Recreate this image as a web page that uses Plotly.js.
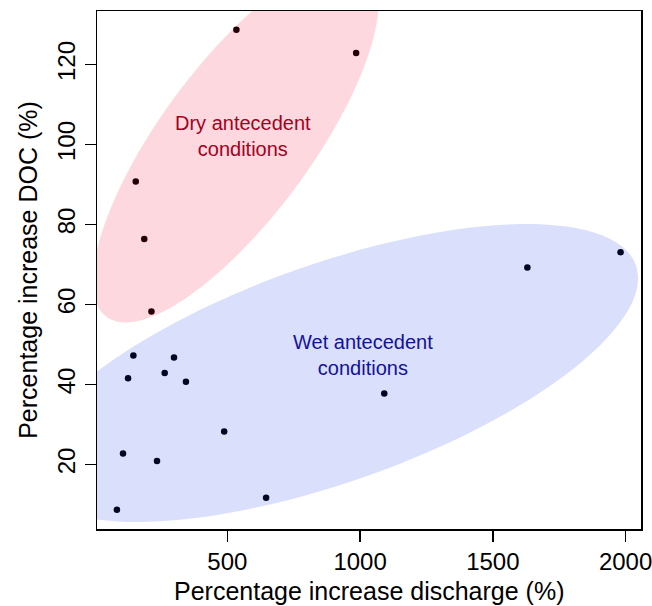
<!DOCTYPE html>
<html><head><meta charset="utf-8">
<script src="https://cdn.plot.ly/plotly-3.0.1.min.js"></script>
<style>html,body{margin:0;padding:0;background:#fff}#chart{width:652px;height:606px}</style>
</head><body><div id="chart"></div>
<script>
// Data
const dryDischarge = [534, 985, 155, 187, 214];
const dryDOC       = [128.7, 122.9, 90.8, 76.4, 58.3];
const wetDischarge = [146, 299, 126, 264, 344, 1091, 488, 107, 235, 646, 84, 1630, 1981];
const wetDOC       = [47.3, 46.8, 41.6, 42.9, 40.7, 37.8, 28.3, 22.8, 20.9, 11.7, 8.7, 69.3, 73.1];
const xTicks = [500, 1000, 1500, 2000];
const yTicks = [20, 40, 60, 80, 100, 120];
const groupLabels = ["Dry antecedent<br>conditions", "Wet antecedent<br>conditions"];
const xTitle = 'Percentage increase discharge (%)';
const yTitle = 'Percentage increase DOC (%)';

// Layout geometry
const W = 652, H = 606;
const M = {l: 97, r: 11, t: 11, b: 77};
const xRange = [9, 2058], yRange = [3.9, 133.4];
const pw = W - M.l - M.r, ph = H - M.t - M.b;
const pxX = pw / (xRange[1] - xRange[0]);
const pxY = ph / (yRange[1] - yRange[0]);

// ellipse: center in data units, semi-axes in pixels, angle in degrees
function ellipsePath(cx, cy, a, b, deg) {
  const t = deg * Math.PI / 180, n = 120;
  let d = '';
  for (let i = 0; i <= n; i++) {
    const p = 2 * Math.PI * i / n;
    const u = a * Math.cos(p), v = b * Math.sin(p);
    const du = u * Math.cos(t) - v * Math.sin(t);
    const dv = u * Math.sin(t) + v * Math.cos(t);
    const x = cx + du / pxX, y = cy + dv / pxY;
    d += (i === 0 ? 'M' : 'L') + x.toFixed(3) + ',' + y.toFixed(3);
  }
  return d + 'Z';
}

const traces = [
  {x: dryDischarge, y: dryDOC, mode: 'markers', type: 'scatter',
   marker: {color: '#000', size: 6.5}, hoverinfo: 'skip', cliponaxis: false},
  {x: wetDischarge, y: wetDOC, mode: 'markers', type: 'scatter',
   marker: {color: '#000', size: 6.5}, hoverinfo: 'skip', cliponaxis: false}
];

const font = 'Liberation Sans, Arial, sans-serif';
const layout = {
  width: W, height: H, margin: M, showlegend: false,
  paper_bgcolor: '#fff', plot_bgcolor: '#fff',
  font: {family: font, color: '#000', size: 24},
  xaxis: {range: xRange, tickvals: xTicks, ticktext: xTicks.map(String),
    showgrid: false, zeroline: false, showline: true, mirror: true,
    linecolor: '#000', linewidth: 1.5, ticks: 'outside', ticklen: 11, tickwidth: 1.3,
    tickcolor: '#000', tickfont: {size: 24}, ticklabeloverflow: 'allow', ticklabelstandoff: 0},
  yaxis: {range: yRange, tickvals: yTicks, ticktext: yTicks.map(String),
    showgrid: false, zeroline: false, showline: true, mirror: true,
    linecolor: '#000', linewidth: 1.5, ticks: 'outside', ticklen: 11, tickwidth: 1.3,
    tickcolor: '#000', tickfont: {size: 24}, tickangle: -90,
    title: {text: yTitle, font: {size: 25}, standoff: 8}},
  shapes: [
    {type: 'path', xref: 'x', yref: 'y', layer: 'above',
     path: ellipsePath(532, 100.8, 218, 75.5, 53.6),
     fillcolor: 'rgba(242,2,42,0.15)', line: {width: 0}},
    {type: 'path', xref: 'x', yref: 'y', layer: 'above',
     path: ellipsePath(892, 42.9, 323, 109, 19.5),
     fillcolor: 'rgba(8,42,228,0.15)', line: {width: 0}}
  ],
  annotations: [
    {x: 558, y: 102.2, xref: 'x', yref: 'y', text: groupLabels[0], showarrow: false,
     font: {size: 20, color: '#A50021', family: font}, align: 'center'},
    {x: 1012, y: 47.4, xref: 'x', yref: 'y', text: groupLabels[1], showarrow: false,
     font: {size: 20, color: '#12129A', family: font}, align: 'center'},
    {x: 0.5, y: 0, xref: 'paper', yref: 'paper', text: xTitle, showarrow: false,
     yanchor: 'middle', yshift: -62, font: {size: 25, color: '#000', family: font}}
  ]
};
Plotly.newPlot('chart', traces, layout, {staticPlot: true, displayModeBar: false});
</script></body></html>
